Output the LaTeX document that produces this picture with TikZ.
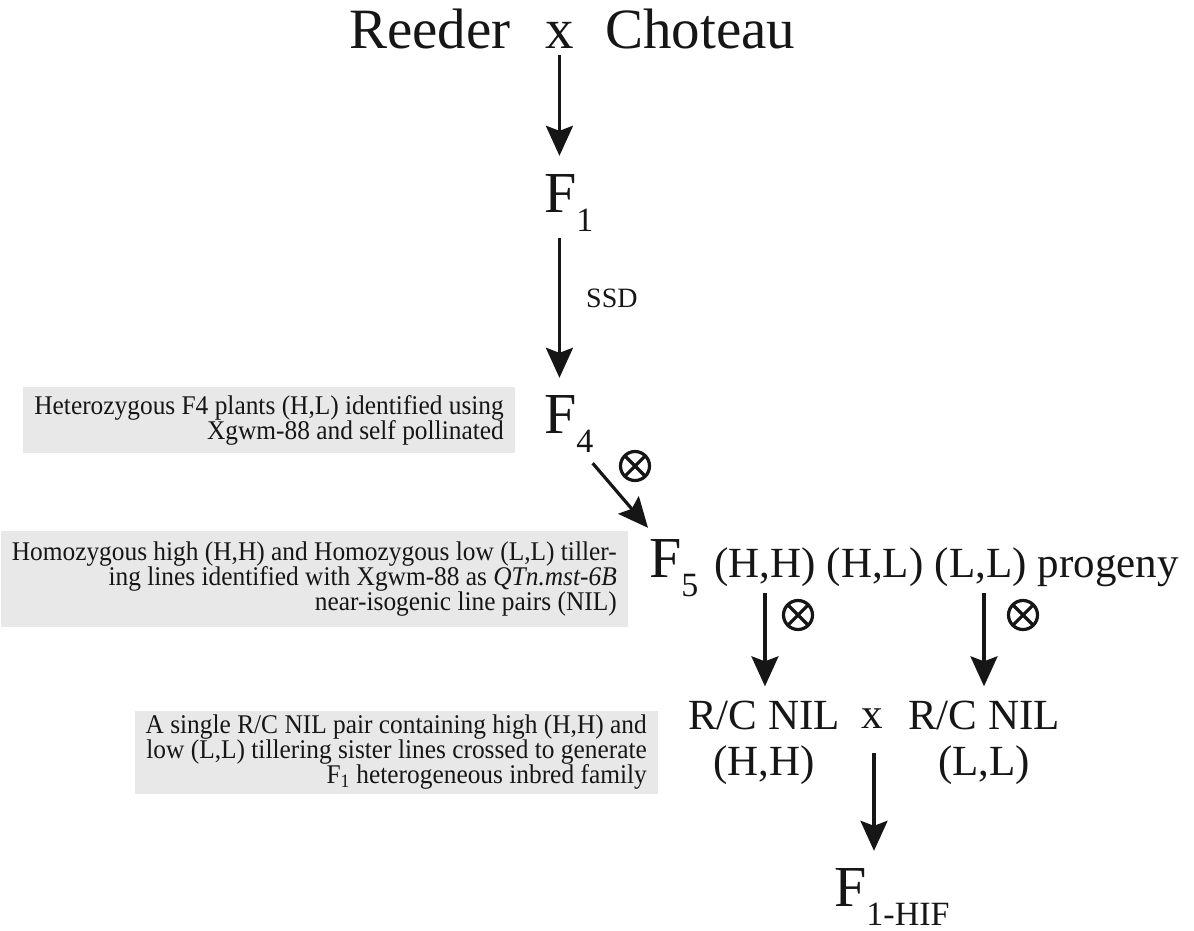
\documentclass[tikz,border=0pt]{standalone}
\usepackage{fontspec}
\setmainfont{Liberation Serif}
\newfontfamily\notefont[FakeStretch=0.94]{Liberation Serif}
\usetikzlibrary{arrows.meta}
\definecolor{notegray}{HTML}{E8E8E8}
\definecolor{ink}{HTML}{161616}
% generation label: F with a large, deeply lowered index
\newcommand{\Fgen}[1]{F\raisebox{-19pt}{\fontsize{34}{34}\selectfont #1}}

\begin{document}
\begin{tikzpicture}[x=1pt,y=-1pt,
  every node/.style={inner sep=0pt, text=ink},
  titletext/.style={font=\fontsize{57}{57}\selectfont, anchor=base west},
  genlabel/.style={font=\fontsize{58}{58}\selectfont, anchor=base west},
  rowtext/.style={font=\fontsize{43}{43}\selectfont, anchor=base west},
  niltext/.style={font=\fontsize{43}{43}\selectfont, anchor=base},
  notebox/.style={fill=notegray, align=right, font=\notefont\fontsize{27}{25}\selectfont,
    inner xsep=11pt, anchor=east},
  arr/.style={draw=ink, line width=3.2pt, -{Stealth[length=30pt,width=27pt,inset=5pt]}},
  selfing/.style={circle, draw=ink, line width=3.2pt, minimum size=29pt,
    path picture={\draw[ink, line width=3.2pt]
      (path picture bounding box.north west) -- (path picture bounding box.south east)
      (path picture bounding box.north east) -- (path picture bounding box.south west);}}
]
\useasboundingbox (0,0) rectangle (1194,930);

% parental cross
\node[titletext] (reeder) at (349,48) {Reeder};
\node[titletext] (cross1) at (545,48) {x};
\node[titletext] (choteau) at (605,48) {Choteau};

% generations
\node[genlabel] (f1) at (544,212) {\Fgen{1}};
\node[genlabel] (f4) at (544,433) {\Fgen{4}};
\node[genlabel] (f5) at (649,577) {\Fgen{5}};
\node[genlabel] (fhif) at (834,906) {\Fgen{1-HIF}};

\node[font=\fontsize{28}{28}\selectfont, anchor=base west] (ssd) at (586,307) {SSD};

% F5 progeny classes
\node[rowtext] (hh) at (714,577) {(H,H)};
\node[rowtext] (hl) at ([xshift=10.75pt]hh.base east) {(H,L)};
\node[rowtext] (ll) at ([xshift=10.75pt]hl.base east) {(L,L)};
\node[rowtext] (prog) at ([xshift=10.75pt]ll.base east) {progeny};

% NIL pair
\node[niltext] (rch) at (764,729) {R/C NIL};
\node[niltext] (hhb) at (764,775) {(H,H)};
\node[niltext] (cross2) at (872,728) {x};
\node[niltext] (rcl) at (984,729) {R/C NIL};
\node[niltext] (llb) at (984,775) {(L,L)};

% selfing marks
\node[selfing] (s1) at (635,466) {};
\node[selfing] (s2) at (798,615) {};
\node[selfing] (s3) at (1023,615) {};

% explanatory notes
\node[notebox, minimum height=66pt] (n1) at (515,420)
  {Heterozygous F4 plants (H,L) identified using\\Xgwm-88 and self pollinated};
\node[notebox, minimum height=96pt] (n2) at (628,579)
  {Homozygous high (H,H) and Homozygous low (L,L) tiller-\\ing lines identified with Xgwm-88 as \textit{QTn.mst-6B}\\near-isogenic line pairs (NIL)};
\node[notebox, minimum height=83pt] (n3) at (658,752)
  {A single R/C NIL pair containing high (H,H) and\\low (L,L) tillering sister lines crossed to generate\\F\textsubscript{1} heterogeneous inbred family};

% connectors
\coordinate (a1e) at (cross1.south |- f1.north);
\draw[arr] ([shift={(0,7)}]cross1.south) -- ([shift={(0,-18)}]a1e);

\coordinate (a2s) at (cross1.south |- f1.south);
\coordinate (a2e) at (cross1.south |- f4.north);
\draw[arr] ([shift={(0,7)}]a2s) -- ([shift={(0,-17)}]a2e);

\draw[arr] ([shift={(-1,11)}]f4.south east) -- ([shift={(-1,-11)}]f5.north west);

\coordinate (a3e) at (hh.south |- rch.north);
\draw[arr] ([shift={(0,7)}]hh.south) -- ([shift={(0,-14)}]a3e);

\coordinate (a4s) at (rcl.north |- ll.south);
\draw[arr] ([shift={(0,7)}]a4s) -- ([shift={(0,-14)}]rcl.north);

\coordinate (a5s) at ([shift={(2,25)}]cross2.south);
\coordinate (a5e) at (a5s |- fhif.north);
\draw[arr] (a5s) -- ([shift={(0,-17)}]a5e);
\end{tikzpicture}
\end{document}
